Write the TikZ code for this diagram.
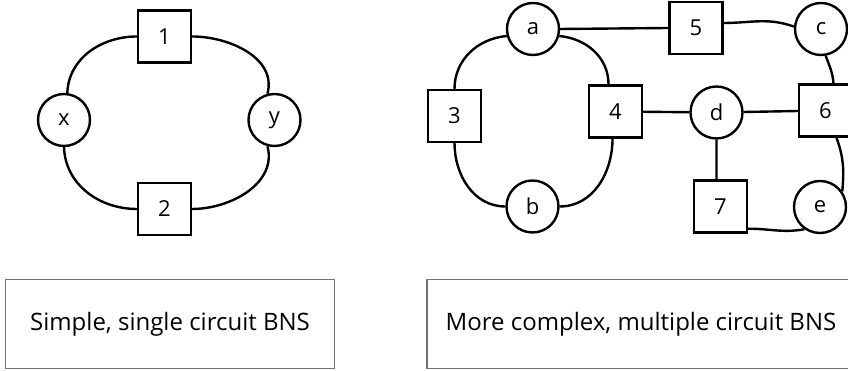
\documentclass[tikz,border=0pt]{standalone}
\usepackage{fontspec}
\setmainfont{Open Sans}
\usetikzlibrary{positioning}
\newcommand{\labfont}{\fontsize{22}{26}\selectfont}
\newcommand{\capfont}{\fontsize{24}{28}\selectfont}

\begin{document}
\begin{tikzpicture}[x=1pt,y=1pt,line width=2.4pt,
    term/.style={circle,draw,minimum size=52pt,inner sep=0pt,font=\labfont},
    part/.style={rectangle,draw,minimum width=53pt,minimum height=52pt,inner sep=0pt,font=\labfont},
    caption/.style={rectangle,draw=black!55,line width=1.2pt,minimum height=89pt,inner sep=0pt,font=\capfont}]
  \useasboundingbox (0,0) rectangle (848,371);
  % simple circuit
  \node[term] (x) at (64,251) {x};
  \node[term] (y) at (274.5,251) {y};
  \node[part] (u1) at (164.5,334.5) {1};
  \node[part] (u2) at (164.5,162) {2};
  \draw (u1.west) to[out=180,in=88] (x.83)
        (u1.east) to[out=0,in=75] (y.105)
        (u2.west) to[out=180,in=-88] (x.-90)
        (u2.east) to[out=0,in=-75] (y.-105);
  % multiple circuit
  \node[term] (a) at (533,342) {a};
  \node[term] (b) at (532.5,164.5) {b};
  \node[term] (c) at (821,342) {c};
  \node[term] (d) at (716.5,258.5) {d};
  \node[term] (e) at (820,164) {e};
  \node[part] (u3) at (454.5,255) {3};
  \node[part] (u4) at (615.5,259.5) {4};
  \node[part] (u5) at (696,343) {5};
  \node[part] (u6) at (825.5,260.5) {6};
  \node[part] (u7) at (720.5,164.5) {7};
  \draw (a.east) -- (u5.west)
        ([yshift=5pt]u5.east) to[out=0,in=160] (c.175)
        (c.-80) to[out=-70,in=95] ([xshift=8pt]u6.north)
        (a.195) to[out=185,in=90] (u3.north)
        (a.-15) to[out=-5,in=90] ([xshift=-7pt]u4.north)
        (u3.south) to[out=-90,in=180] (b.west)
        ([xshift=-3pt]u4.south) to[out=-90,in=0] (b.east)
        (u4) -- (d) -- (u6)
        (d) -- (d |- u7.north)
        ([xshift=11pt]u6.south) to[out=-70,in=85] (e.35)
        ([yshift=5pt]u7.south east) to[out=0,in=190] (e.235);
  % captions
  \node[caption,minimum width=329pt] (cap1) at (170,47) {Simple, single circuit BNS};
  \node[caption,minimum width=428pt] (cap2) at (641,47) {More complex, multiple circuit BNS};
\end{tikzpicture}
\end{document}
